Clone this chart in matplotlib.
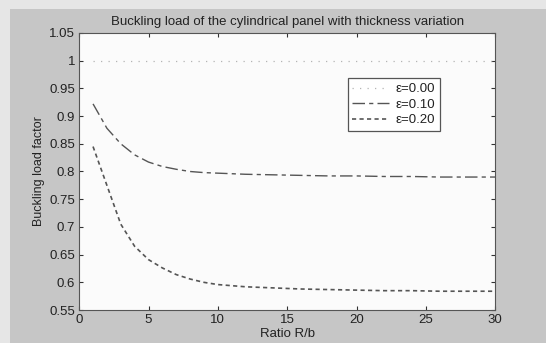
""" Buckling load of the cylindrical panel with thickness variation """
import matplotlib
matplotlib.use("Agg")
import matplotlib.pyplot as plt
from matplotlib.patches import Rectangle

# ratio R/b
ratio = [1, 2, 3, 4, 5, 6, 7, 8, 9, 10, 12, 14, 16, 18, 20, 22, 24, 26, 28, 30]
# buckling load factor for each thickness variation
load_e000 = [1.0] * len(ratio)
load_e010 = [0.922, 0.878, 0.850, 0.830, 0.817, 0.809, 0.804, 0.800, 0.798, 0.797,
             0.795, 0.794, 0.793, 0.792, 0.792, 0.791, 0.791, 0.790, 0.790, 0.790]
load_e020 = [0.845, 0.775, 0.705, 0.665, 0.641, 0.626, 0.614, 0.606, 0.600, 0.596,
             0.592, 0.590, 0.588, 0.587, 0.586, 0.585, 0.585, 0.584, 0.584, 0.584]
labels = ["\u03b5=0.00", "\u03b5=0.10", "\u03b5=0.20"]
xticks = [0, 5, 10, 15, 20, 25, 30]
yticks = [0.55, 0.6, 0.65, 0.7, 0.75, 0.8, 0.85, 0.9, 0.95, 1, 1.05]

plt.rcParams['font.family'] = ['Liberation Sans', 'DejaVu Sans']

fig = plt.figure(figsize=(5.46, 3.43), dpi=100, facecolor="#e6e6e6")
# grey figure area of the scanned plot
fig.patches.append(Rectangle((10 / 546, 0), 1, 1 - 9 / 343, transform=fig.transFigure,
                             facecolor="#c6c6c6", edgecolor="none", zorder=-10))
ax = fig.add_axes([0.145, 0.096, 0.762, 0.808])
ax.set_facecolor("#fbfbfb")

ax.plot(ratio, load_e000, linestyle=(0, (1, 5)), color="#b4b4b4", lw=0.9, label=labels[0])
ax.plot(ratio, load_e010, linestyle=(0, (9, 3, 3, 3)), color="#555555", lw=1.0, label=labels[1])
ax.plot(ratio, load_e020, linestyle=(0, (2.5, 2)), color="#555555", lw=1.2, label=labels[2])

ax.set_xlim(0, 30)
ax.set_ylim(0.55, 1.05)
ax.set_xticks(xticks)
ax.set_yticks(yticks)
ax.set_yticklabels(["%g" % v for v in yticks])
ax.tick_params(direction="in", top=True, right=True, labelsize=9.5, length=3,
               colors="#333333", labelcolor="#222222", pad=3)
for s in ax.spines.values():
    s.set_color("#555555")
    s.set_linewidth(0.8)

ax.set_title("Buckling load of the cylindrical panel with thickness variation",
             fontsize=9.5, pad=6, color="#222222")
ax.set_xlabel("Ratio R/b", fontsize=9.5, labelpad=1, color="#222222")
ax.set_ylabel("Buckling load factor", fontsize=9, labelpad=3, color="#222222")

leg = ax.legend(loc="upper right", bbox_to_anchor=(0.883, 0.86), fontsize=9.5, frameon=True,
                fancybox=False, edgecolor="#555555", handlelength=2.8, handletextpad=0.5,
                borderpad=0.35, labelspacing=0.25, framealpha=1)
leg.get_frame().set_linewidth(0.9)
for t in leg.get_texts():
    t.set_color("#222222")

plt.savefig("out.png", dpi=100, facecolor=fig.get_facecolor())
